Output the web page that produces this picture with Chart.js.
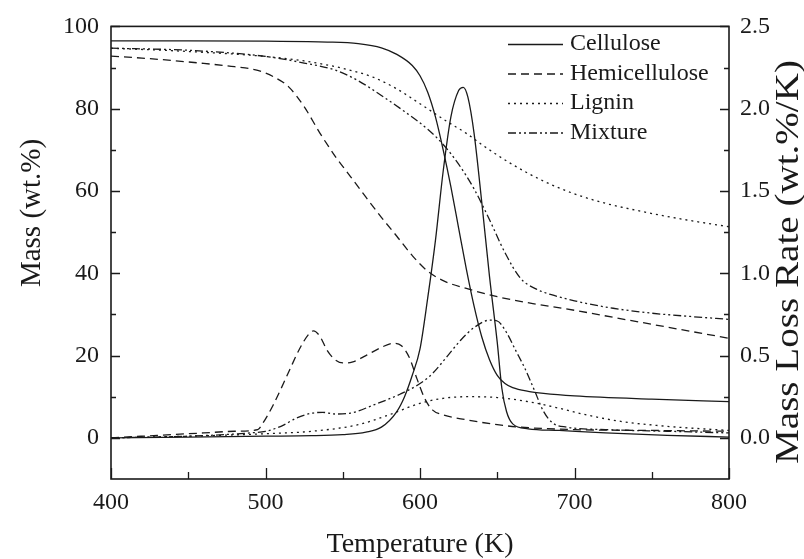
<!DOCTYPE html>
<html>
<head>
<meta charset="utf-8">
<script src="https://cdn.jsdelivr.net/npm/chart.js@4.4.0/dist/chart.umd.min.js"></script>
<style>
  html, body { margin: 0; padding: 0; background: #fff; }
  canvas { display: block; }
</style>
</head>
<body>
<canvas id="myChart" width="804" height="559"></canvas>
<script>
// values: temperature (K) -> mass (wt.%) / mass loss rate (wt.%/K)
const celluloseMassT = [400, 450, 500, 540, 560, 575, 585, 595, 600, 605, 610, 615, 620, 625, 630, 635, 640, 645, 650, 655, 660, 670, 680, 700, 750, 800];
const celluloseMass  = [96.5, 96.5, 96.4, 96.2, 95.8, 94.8, 93.2, 90.5, 88, 84, 78, 70, 61, 51, 41, 32, 24.5, 19, 15.2, 13.2, 12.2, 11.3, 10.8, 10.2, 9.4, 8.8];
const celluloseRateT = [400, 450, 500, 530, 550, 565, 575, 585, 590, 595, 600, 605, 610, 615, 620, 625, 628, 631, 635, 640, 645, 650, 653, 656, 660, 670, 690, 720, 760, 800];
const celluloseRate  = [0.0, 0.005, 0.01, 0.013, 0.02, 0.035, 0.065, 0.16, 0.25, 0.38, 0.54, 0.85, 1.2, 1.62, 1.95, 2.11, 2.13, 2.07, 1.85, 1.43, 0.98, 0.58, 0.3, 0.16, 0.085, 0.055, 0.045, 0.03, 0.015, 0.005];

const hemiMassT = [400, 420, 440, 460, 480, 495, 505, 515, 525, 535, 545, 555, 565, 575, 585, 595, 605, 615, 630, 650, 675, 700, 725, 750, 775, 800];
const hemiMass  = [92.8, 92.3, 91.7, 91, 90.2, 89.3, 87.8, 85.3, 80.5, 74.2, 68.5, 63.5, 58.5, 53.6, 49, 44.3, 40.5, 38.2, 36.3, 34.3, 32.5, 31, 29.3, 27.6, 25.9, 24.2];
const hemiRateT = [400, 430, 460, 480, 495, 498, 505, 515, 522, 528, 531, 535, 540, 545, 550, 556, 565, 575, 583, 588, 593, 598, 603, 608, 615, 630, 650, 665, 700, 750, 800];
const hemiRate  = [0.0, 0.015, 0.03, 0.04, 0.05, 0.085, 0.2, 0.4, 0.54, 0.63, 0.65, 0.62, 0.53, 0.475, 0.455, 0.46, 0.5, 0.55, 0.575, 0.56, 0.49, 0.36, 0.24, 0.17, 0.14, 0.11, 0.08, 0.065, 0.05, 0.045, 0.04];

const ligninMassT = [400, 450, 500, 525, 550, 570, 585, 600, 617, 630, 641, 660, 680, 700, 720, 740, 760, 780, 800];
const ligninMass  = [94.7, 93.9, 92.7, 91.6, 89.8, 87.6, 84.8, 81.2, 77, 74, 71, 66.4, 62.4, 59.3, 57, 55.3, 53.8, 52.5, 51.3];
const ligninRateT = [400, 450, 500, 530, 560, 580, 600, 615, 630, 650, 670, 690, 705, 730, 760, 800];
const ligninRate  = [0.0, 0.01, 0.025, 0.04, 0.08, 0.14, 0.21, 0.24, 0.25, 0.245, 0.22, 0.18, 0.145, 0.1, 0.07, 0.045];

const mixMassT = [400, 450, 500, 525, 545, 560, 575, 590, 605, 615, 625, 635, 645, 655, 665, 675, 685, 700, 725, 750, 775, 800];
const mixMass  = [94.7, 94.2, 92.7, 91.1, 89.4, 86.8, 83.2, 79.3, 75, 71.3, 66.5, 60.5, 53, 45, 38.8, 36.2, 34.8, 33.3, 31.5, 30.3, 29.5, 28.8];
const mixRateT = [400, 450, 490, 500, 510, 520, 530, 537, 545, 555, 570, 587, 600, 608, 618, 626, 635, 645, 650, 656, 662, 668, 674, 680, 686, 695, 720, 760, 800];
const mixRate  = [0.0, 0.01, 0.03, 0.04, 0.07, 0.12, 0.15, 0.155, 0.145, 0.15, 0.2, 0.265, 0.33, 0.39, 0.5, 0.59, 0.67, 0.715, 0.71, 0.64, 0.53, 0.42, 0.29, 0.16, 0.09, 0.065, 0.05, 0.04, 0.03];

const seriesNames = ['Cellulose', 'Hemicellulose', 'Lignin', 'Mixture'];
const xTicks = [400, 500, 600, 700, 800];
const massTicks = [0, 20, 40, 60, 80, 100];
const rateTicks = [0.0, 0.5, 1.0, 1.5, 2.0, 2.5];

const xTitle = 'Temperature (K)';
const massTitle = 'Mass (wt.%)';
const rateTitle = 'Mass Loss Rate (wt.%/K)';

const FONT = '"Liberation Serif", "Times New Roman", Times, serif';
const INK = '#1a1a1a';
const dashes = [[], [8, 5], [2, 4], [8, 3, 2, 3, 2, 3]];

function pts (ts, vs) {
  return ts.map((t, i) => ({ x: t, y: vs[i] }));
}

function line (label, ts, vs, axis, k, legend) {
  return {
    label: label,
    data: pts(ts, vs),
    yAxisID: axis,
    borderColor: INK,
    borderWidth: 1.3,
    borderDash: dashes[k],
    pointRadius: 0,
    fill: false,
    cubicInterpolationMode: 'monotone',
    inLegend: legend
  };
}

const datasets = [
  line(seriesNames[0], celluloseMassT, celluloseMass, 'y', 0, true),
  line(seriesNames[1], hemiMassT, hemiMass, 'y', 1, true),
  line(seriesNames[2], ligninMassT, ligninMass, 'y', 2, true),
  line(seriesNames[3], mixMassT, mixMass, 'y', 3, true),
  line(seriesNames[0] + ' rate', celluloseRateT, celluloseRate, 'y1', 0, false),
  line(seriesNames[1] + ' rate', hemiRateT, hemiRate, 'y1', 1, false),
  line(seriesNames[2] + ' rate', ligninRateT, ligninRate, 'y1', 2, false),
  line(seriesNames[3] + ' rate', mixRateT, mixRate, 'y1', 3, false)
];

// frame, inward ticks, y titles and the legend box
const decor = {
  id: 'decor',
  afterDraw (chart) {
    const { ctx, chartArea: a, scales } = chart;
    ctx.save();
    ctx.strokeStyle = INK;
    ctx.lineWidth = 1.6;
    ctx.setLineDash([]);
    ctx.strokeRect(a.left, a.top, a.right - a.left, a.bottom - a.top);

    ctx.lineWidth = 1.3;
    ctx.beginPath();
    for (let v = 400; v <= 800; v += 50) {
      const px = Math.round(scales.x.getPixelForValue(v)) + 0.5;
      const len = v % 100 === 0 ? 11 : 7;
      ctx.moveTo(px, a.bottom);
      ctx.lineTo(px, a.bottom - len);
    }
    for (let v = 0; v <= 100; v += 10) {
      const py = Math.round(scales.y.getPixelForValue(v)) + 0.5;
      const len = v % 20 === 0 ? 9 : 5;
      ctx.moveTo(a.left, py);
      ctx.lineTo(a.left + len, py);
    }
    for (let v = 0; v <= 250; v += 25) {
      const py = Math.round(scales.y1.getPixelForValue(v / 100)) + 0.5;
      const len = v % 50 === 0 ? 9 : 5;
      ctx.moveTo(a.right, py);
      ctx.lineTo(a.right - len, py);
    }
    ctx.stroke();

    ctx.fillStyle = INK;
    ctx.textAlign = 'center';
    ctx.textBaseline = 'alphabetic';
    ctx.save();
    ctx.translate(40, 213);
    ctx.rotate(-Math.PI / 2);
    ctx.font = '29px ' + FONT;
    ctx.fillText(massTitle, 0, 0);
    ctx.restore();

    ctx.save();
    ctx.translate(798, 262);
    ctx.rotate(-Math.PI / 2);
    ctx.scale(1.15, 1);
    ctx.font = '34px ' + FONT;
    ctx.fillText(rateTitle, 0, 0);
    ctx.restore();

    // legend
    ctx.font = '24px ' + FONT;
    ctx.textAlign = 'left';
    ctx.textBaseline = 'middle';
    let row = 0;
    chart.data.datasets.forEach(ds => {
      if (!ds.inLegend) return;
      const y = 44 + row * 29.5;
      ctx.setLineDash(ds.borderDash);
      ctx.lineWidth = ds.borderWidth;
      ctx.beginPath();
      ctx.moveTo(508, y + 0.5);
      ctx.lineTo(563, y + 0.5);
      ctx.stroke();
      ctx.fillText(ds.label, 570, y);
      row++;
    });
    ctx.restore();
  }
};

const tickFont = { family: FONT, size: 24 };

new Chart(document.getElementById('myChart'), {
  type: 'line',
  data: { datasets: datasets },
  options: {
    responsive: false,
    animation: false,
    devicePixelRatio: 1,
    layout: { padding: { top: 23, left: 0, right: 0, bottom: 0 } },
    plugins: { legend: { display: false }, tooltip: { enabled: false } },
    scales: {
      x: {
        type: 'linear',
        min: 400,
        max: 800,
        grid: { display: false, drawTicks: false },
        border: { display: false },
        afterBuildTicks: s => { s.ticks = xTicks.map(v => ({ value: v })); },
        afterFit: s => { s.height = 80; },
        ticks: { font: tickFont, color: INK, padding: 9, maxRotation: 0 },
        title: { display: true, text: xTitle, color: INK, font: { family: FONT, size: 28, lineHeight: 1 }, padding: { top: 0, bottom: 0 } }
      },
      y: {
        type: 'linear',
        position: 'left',
        min: -10,
        max: 100,
        grid: { display: false, drawTicks: false },
        border: { display: false },
        afterBuildTicks: s => { s.ticks = massTicks.map(v => ({ value: v })); },
        afterFit: s => { s.width = 111; },
        ticks: { font: tickFont, color: INK, padding: 12 }
      },
      y1: {
        type: 'linear',
        position: 'right',
        min: -0.25,
        max: 2.5,
        grid: { display: false, drawTicks: false },
        border: { display: false },
        afterBuildTicks: s => { s.ticks = rateTicks.map(v => ({ value: v })); },
        afterFit: s => { s.width = 75; },
        ticks: { font: tickFont, color: INK, padding: 11, callback: v => v.toFixed(1) }
      }
    }
  },
  plugins: [decor]
});
</script>
</body>
</html>
